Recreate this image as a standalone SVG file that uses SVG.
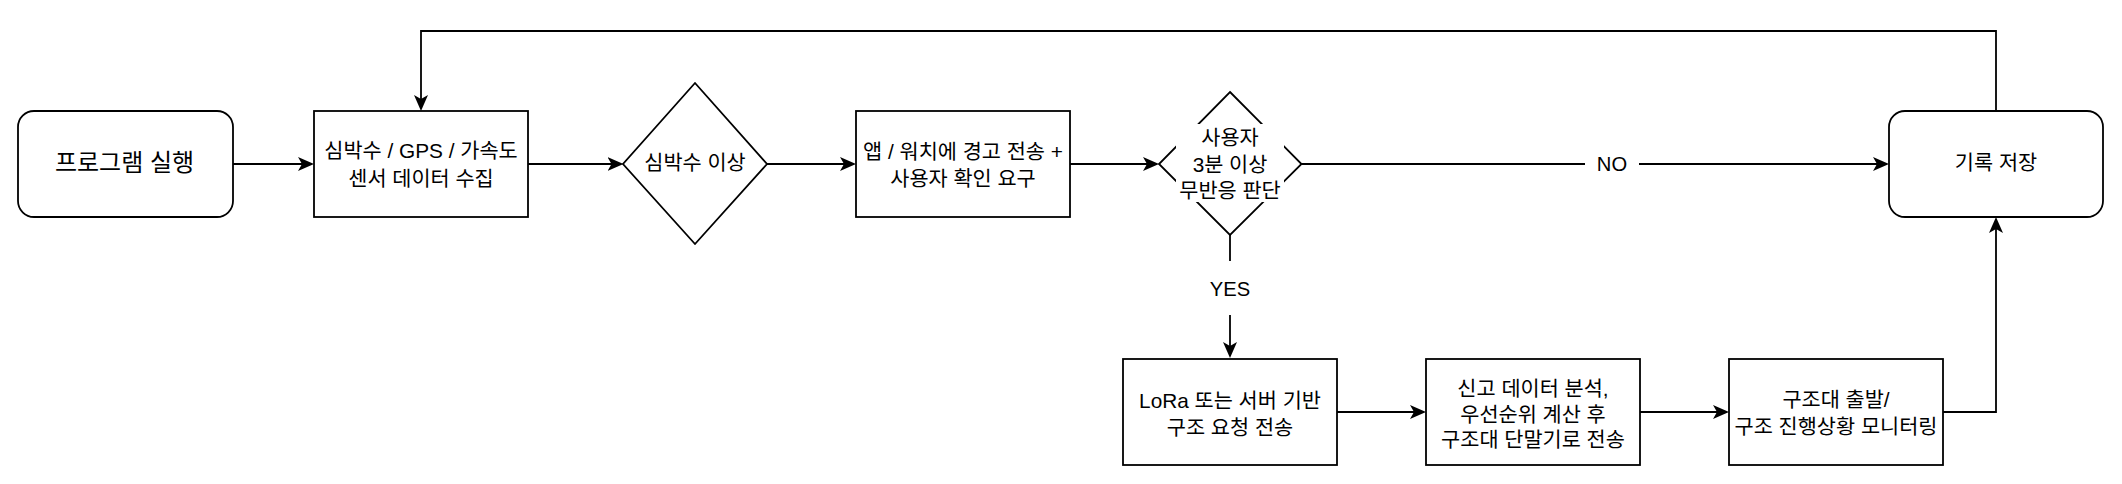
<svg xmlns="http://www.w3.org/2000/svg" width="2122" height="484" viewBox="0 0 2122 484">
<style>
.n{fill:#fff;stroke:#000;stroke-width:1.8}
.t{font-family:"Liberation Sans","Noto Sans CJK KR",sans-serif;font-size:20.8px;fill:#000;text-anchor:middle;dominant-baseline:central}
.big{font-size:24px}
.lb{font-size:20.2px}
.e{fill:none;stroke:#000;stroke-width:1.8}
.bg{fill:#fff;stroke:none}
</style>
<defs>
<marker id="a" markerUnits="userSpaceOnUse" markerWidth="16" markerHeight="14" refX="12" refY="7" orient="auto">
<path d="M0,0 L16,7 L0,14 L4,7 Z" fill="#000"/>
</marker>
</defs>
<rect width="2122" height="484" fill="#fff"/>
<g id="connectors">
<path class="e" d="M233,164 H310" marker-end="url(#a)"/>
<path class="e" d="M528,164 H619.5" marker-end="url(#a)"/>
<path class="e" d="M767,164 H852" marker-end="url(#a)"/>
<path class="e" d="M1070,164 H1155" marker-end="url(#a)"/>
<path class="e" d="M1301,164 H1885" marker-end="url(#a)"/>
<rect class="bg" x="1585" y="150" width="54" height="28"/>
<text class="t lb" x="1612" y="164">NO</text>
<path class="e" d="M1230,235 V354" marker-end="url(#a)"/>
<rect class="bg" x="1200" y="261" width="60" height="54"/>
<text class="t lb" x="1230" y="288.5">YES</text>
<path class="e" d="M1337,412 H1422" marker-end="url(#a)"/>
<path class="e" d="M1640,412 H1725" marker-end="url(#a)"/>
<path class="e" d="M1943,412 H1996 V221" marker-end="url(#a)"/>
<path class="e" d="M1996,111 V31 H421 V107" marker-end="url(#a)"/>
</g>
<g id="start">
<rect class="n" x="18" y="111" width="215" height="106" rx="16"/>
<text class="t big" x="124.5" y="162.5">프로그램 실행</text>
</g>
<g id="collect">
<rect class="n" x="314" y="111" width="214" height="106"/>
<text class="t" x="421" y="150.5">심박수 / GPS / 가속도</text>
<text class="t" x="421" y="178.5">센서 데이터 수집</text>
</g>
<g id="hr-check">
<path class="n" d="M695,83 L767,164 L695,244 L623,164 Z"/>
<text class="t" x="695" y="162.5">심박수 이상</text>
</g>
<g id="alert">
<rect class="n" x="856" y="111" width="214" height="106"/>
<text class="t" x="963" y="151">앱 / 워치에 경고 전송 +</text>
<text class="t" x="963" y="178.5">사용자 확인 요구</text>
</g>
<g id="no-response">
<path class="n" d="M1230,92 L1301.5,164 L1230,235 L1159,164 Z"/>
<rect class="bg" x="1176" y="124" width="108" height="78"/>
<text class="t" x="1230" y="137.5">사용자</text>
<text class="t" x="1230" y="164">3분 이상</text>
<text class="t" x="1230" y="190">무반응 판단</text>
</g>
<g id="save">
<rect class="n" x="1889" y="111" width="214" height="106" rx="16"/>
<text class="t" x="1996" y="162.5">기록 저장</text>
</g>
<g id="lora">
<rect class="n" x="1123" y="359" width="214" height="106"/>
<text class="t" x="1230" y="400.8">LoRa 또는 서버 기반</text>
<text class="t" x="1230" y="427.5">구조 요청 전송</text>
</g>
<g id="analyze">
<rect class="n" x="1426" y="359" width="214" height="106"/>
<text class="t" x="1533" y="388.8">신고 데이터 분석,</text>
<text class="t" x="1533" y="414.2">우선순위 계산 후</text>
<text class="t" x="1533" y="439.2">구조대 단말기로 전송</text>
</g>
<g id="rescue">
<rect class="n" x="1729" y="359" width="214" height="106"/>
<text class="t" x="1836" y="399.2">구조대 출발/</text>
<text class="t" x="1836" y="426.7">구조 진행상황 모니터링</text>
</g>
</svg>
